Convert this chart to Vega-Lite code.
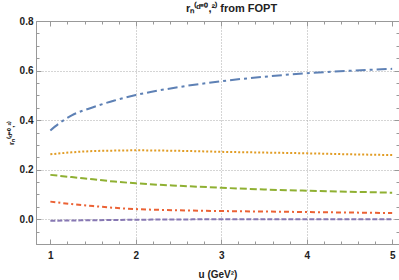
{
  "$schema": "https://vega.github.io/schema/vega-lite/v6.json",
  "width": 363,
  "height": 223,
  "autosize": {"type": "none"},
  "padding": {"left": 36, "top": 21, "right": 0, "bottom": 36},
  "background": "white",
  "title": {
    "text": "rₙ⁽ᵈ⁼⁰,²⁾ from FOPT",
    "font": "Liberation Sans",
    "fontSize": 11,
    "fontWeight": "bold",
    "color": "#222",
    "anchor": "middle",
    "dx": 14,
    "offset": 2
  },
  "config": {
    "view": {"stroke": "#999"},
    "axis": {
      "labelFont": "Liberation Sans",
      "labelFontWeight": "bold",
      "labelFontSize": 10,
      "labelColor": "#222",
      "titleFont": "Liberation Sans",
      "titleFontWeight": "bold",
      "titleColor": "#222",
      "domainColor": "#999",
      "tickColor": "#999",
      "gridColor": "#aaa",
      "gridDash": [1, 2],
      "gridWidth": 1
    }
  },
  "data": {
    "values": [
      {"s": "a", "u": 1.0, "r": 0.358},
      {"s": "a", "u": 1.1, "r": 0.386},
      {"s": "a", "u": 1.25, "r": 0.419},
      {"s": "a", "u": 1.5, "r": 0.452},
      {"s": "a", "u": 1.75, "r": 0.479},
      {"s": "a", "u": 2.0, "r": 0.501},
      {"s": "a", "u": 2.5, "r": 0.533},
      {"s": "a", "u": 3.0, "r": 0.557},
      {"s": "a", "u": 3.5, "r": 0.575},
      {"s": "a", "u": 4.0, "r": 0.589},
      {"s": "a", "u": 4.5, "r": 0.599},
      {"s": "a", "u": 5.0, "r": 0.607},
      {"s": "b", "u": 1.0, "r": 0.262},
      {"s": "b", "u": 1.25, "r": 0.27},
      {"s": "b", "u": 1.5, "r": 0.275},
      {"s": "b", "u": 1.75, "r": 0.277},
      {"s": "b", "u": 2.0, "r": 0.278},
      {"s": "b", "u": 2.5, "r": 0.276},
      {"s": "b", "u": 3.0, "r": 0.272},
      {"s": "b", "u": 3.5, "r": 0.269},
      {"s": "b", "u": 4.0, "r": 0.266},
      {"s": "b", "u": 4.5, "r": 0.262},
      {"s": "b", "u": 5.0, "r": 0.259},
      {"s": "c", "u": 1.0, "r": 0.179},
      {"s": "c", "u": 1.25, "r": 0.17},
      {"s": "c", "u": 1.5, "r": 0.161},
      {"s": "c", "u": 1.75, "r": 0.152},
      {"s": "c", "u": 2.0, "r": 0.145},
      {"s": "c", "u": 2.5, "r": 0.135},
      {"s": "c", "u": 3.0, "r": 0.127},
      {"s": "c", "u": 3.5, "r": 0.12},
      {"s": "c", "u": 4.0, "r": 0.115},
      {"s": "c", "u": 4.5, "r": 0.111},
      {"s": "c", "u": 5.0, "r": 0.107},
      {"s": "d", "u": 1.0, "r": 0.071},
      {"s": "d", "u": 1.25, "r": 0.061},
      {"s": "d", "u": 1.5, "r": 0.053},
      {"s": "d", "u": 1.75, "r": 0.046},
      {"s": "d", "u": 2.0, "r": 0.041},
      {"s": "d", "u": 2.5, "r": 0.036},
      {"s": "d", "u": 3.0, "r": 0.033},
      {"s": "d", "u": 3.5, "r": 0.031},
      {"s": "d", "u": 4.0, "r": 0.029},
      {"s": "d", "u": 4.5, "r": 0.027},
      {"s": "d", "u": 5.0, "r": 0.025},
      {"s": "e", "u": 1.0, "r": -0.006},
      {"s": "e", "u": 1.5, "r": -0.004},
      {"s": "e", "u": 2.0, "r": -0.002},
      {"s": "e", "u": 2.5, "r": -0.001},
      {"s": "e", "u": 3.0, "r": 0.0},
      {"s": "e", "u": 4.0, "r": 0.0},
      {"s": "e", "u": 5.0, "r": 0.0}
    ]
  },
  "layer": [
    {
      "mark": {"type": "line", "strokeWidth": 2, "interpolate": "monotone", "clip": true},
      "encoding": {
        "x": {
          "field": "u", "type": "quantitative",
          "scale": {"domain": [0.832, 5.08], "nice": false, "zero": false},
          "axis": {
            "title": "u (GeV²)",
            "titleFontSize": 10,
            "titlePadding": 9,
            "values": [1, 1.2, 1.4, 1.6, 1.8, 2, 2.2, 2.4, 2.6, 2.8, 3, 3.2, 3.4, 3.6, 3.8, 4, 4.2, 4.4, 4.6, 4.8, 5],
            "labelExpr": "abs(datum.value - round(datum.value)) < 0.001 ? format(datum.value, 'd') : ''",
            "labelPadding": 11,
            "tickSize": {"condition": {"test": "abs(datum.value - round(datum.value)) < 0.001", "value": -5}, "value": -3},
            "gridOpacity": {"condition": {"test": "datum.value === 2 || datum.value === 3 || datum.value === 4", "value": 1}, "value": 0}
          }
        },
        "y": {
          "field": "r", "type": "quantitative",
          "scale": {"domain": [-0.1, 0.8], "nice": false, "zero": false},
          "axis": {
            "title": "rₙ⁽ᵈ⁼⁰,²⁾",
            "titleFontSize": 8,
            "titlePadding": 4,
            "values": [-0.1, -0.05, 0, 0.05, 0.1, 0.15, 0.2, 0.25, 0.3, 0.35, 0.4, 0.45, 0.5, 0.55, 0.6, 0.65, 0.7, 0.75, 0.8],
            "labelExpr": "abs(datum.value * 5 - round(datum.value * 5)) < 0.001 ? format(datum.value, '.1f') : ''",
            "labelPadding": 8,
            "tickSize": {"condition": {"test": "abs(datum.value * 5 - round(datum.value * 5)) < 0.001", "value": -5}, "value": -3},
            "gridOpacity": {"condition": {"test": "abs(datum.value * 5 - round(datum.value * 5)) < 0.001 && datum.value > -0.05 && datum.value < 0.7", "value": 1}, "value": 0}
          }
        },
        "detail": {"field": "s"},
        "color": {
          "field": "s", "type": "nominal", "legend": null,
          "scale": {"domain": ["a", "b", "c", "d", "e"], "range": ["#5E81B5", "#E19C24", "#8FB032", "#EB6235", "#8778B3"]}
        },
        "strokeDash": {
          "field": "s", "type": "nominal", "legend": null,
          "scale": {"domain": ["a", "b", "c", "d", "e"], "range": [[10, 4, 3, 4], [2, 2], [7, 3], [5, 3, 2, 3], [5, 2]]}
        }
      }
    },
    {
      "mark": {"type": "point", "opacity": 0},
      "encoding": {
        "x": {
          "field": "u", "type": "quantitative",
          "axis": {
            "orient": "top", "title": null, "labels": false, "grid": false,
            "values": [1, 1.2, 1.4, 1.6, 1.8, 2, 2.2, 2.4, 2.6, 2.8, 3, 3.2, 3.4, 3.6, 3.8, 4, 4.2, 4.4, 4.6, 4.8, 5],
            "tickSize": {"condition": {"test": "abs(datum.value - round(datum.value)) < 0.001", "value": -5}, "value": -3}
          }
        },
        "y": {
          "field": "r", "type": "quantitative",
          "axis": {
            "orient": "right", "title": null, "labels": false, "grid": false,
            "values": [-0.1, -0.05, 0, 0.05, 0.1, 0.15, 0.2, 0.25, 0.3, 0.35, 0.4, 0.45, 0.5, 0.55, 0.6, 0.65, 0.7, 0.75, 0.8],
            "tickSize": {"condition": {"test": "abs(datum.value * 5 - round(datum.value * 5)) < 0.001", "value": -5}, "value": -3}
          }
        }
      }
    }
  ],
  "resolve": {"axis": {"x": "independent", "y": "independent"}}
}
